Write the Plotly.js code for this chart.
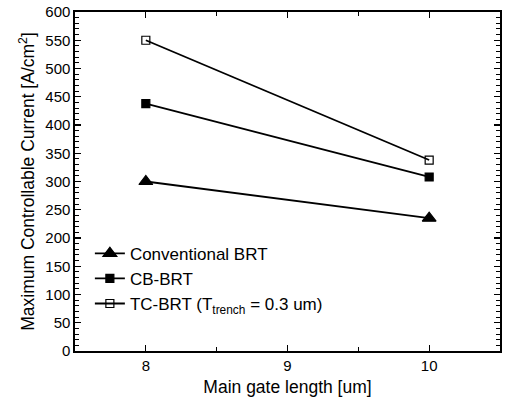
<!DOCTYPE html>
<html><head><meta charset="utf-8">
<script src="https://cdn.plot.ly/plotly-3.0.1.min.js"></script>
<style>body{margin:0;padding:0;background:#fff}#c{width:507px;height:403px}</style>
</head><body><div id="c"></div>
<script>
const gateLength = [8, 10];
const conventional = [300, 235];
const cbBrt = [438, 308];
const tcBrt = [550, 338];
const seriesNames = ['Conventional BRT', 'CB-BRT', 'TC-BRT (T<sub>trench</sub> = 0.3 um)'];

const font = {family: 'Liberation Sans, Arial, sans-serif', color: '#000', size: 15};
const mk = (y, name, sym, size) => ({
  x: gateLength, y: y, name: name, type: 'scatter', mode: 'lines+markers',
  line: {color: '#000', width: 1.8},
  marker: {symbol: sym, size: size, color: '#000', line: {color: '#000', width: 1.2}}
});
const data = [
  mk(conventional, seriesNames[0], 'triangle-up', 12),
  mk(cbBrt, seriesNames[1], 'square', 8),
  mk(tcBrt, seriesNames[2], 'square-open', 8)
];
const layout = {
  width: 507, height: 403,
  margin: {l: 75, r: 7, t: 12, b: 52},
  paper_bgcolor: '#fff', plot_bgcolor: '#fff',
  font: font,
  showlegend: true,
  legend: {x: 0.035, y: 0.34, xanchor: 'left', yanchor: 'top', bgcolor: 'rgba(0,0,0,0)',
           font: {family: font.family, size: 17, color: '#000'}, tracegroupgap: 0, itemwidth: 30},
  xaxis: {
    range: [7.5, 10.5], tickvals: [8, 9, 10], ticktext: ['8', '9', '10'],
    ticks: 'inside', ticklen: 6, tickwidth: 1.3, tickcolor: '#000',
    showline: true, linecolor: '#000', linewidth: 1.6, mirror: 'allticks',
    showgrid: false, zeroline: false,
    minor: {tickvals: [7.5, 8.5, 9.5, 10.5], ticks: 'inside', ticklen: 4, tickwidth: 1, tickcolor: '#000'},
    tickfont: {size: 15},
    title: {text: 'Main gate length [um]', font: {size: 17.5}, standoff: 8}
  },
  yaxis: {
    range: [0, 600], dtick: 50,
    ticks: 'inside', ticklen: 6, tickwidth: 1.3, tickcolor: '#000',
    showline: true, linecolor: '#000', linewidth: 1.6, mirror: 'allticks',
    showgrid: false, zeroline: false,
    minor: {dtick: 10, ticks: 'inside', ticklen: 4, tickwidth: 1, tickcolor: '#000'},
    tickfont: {size: 15},
    title: {text: 'Maximum Controllable Current [A/cm<sup>2</sup>]', font: {size: 17.5}, standoff: 6}
  }
};
Plotly.newPlot('c', data, layout, {displayModeBar: false, staticPlot: true});
</script></body></html>
